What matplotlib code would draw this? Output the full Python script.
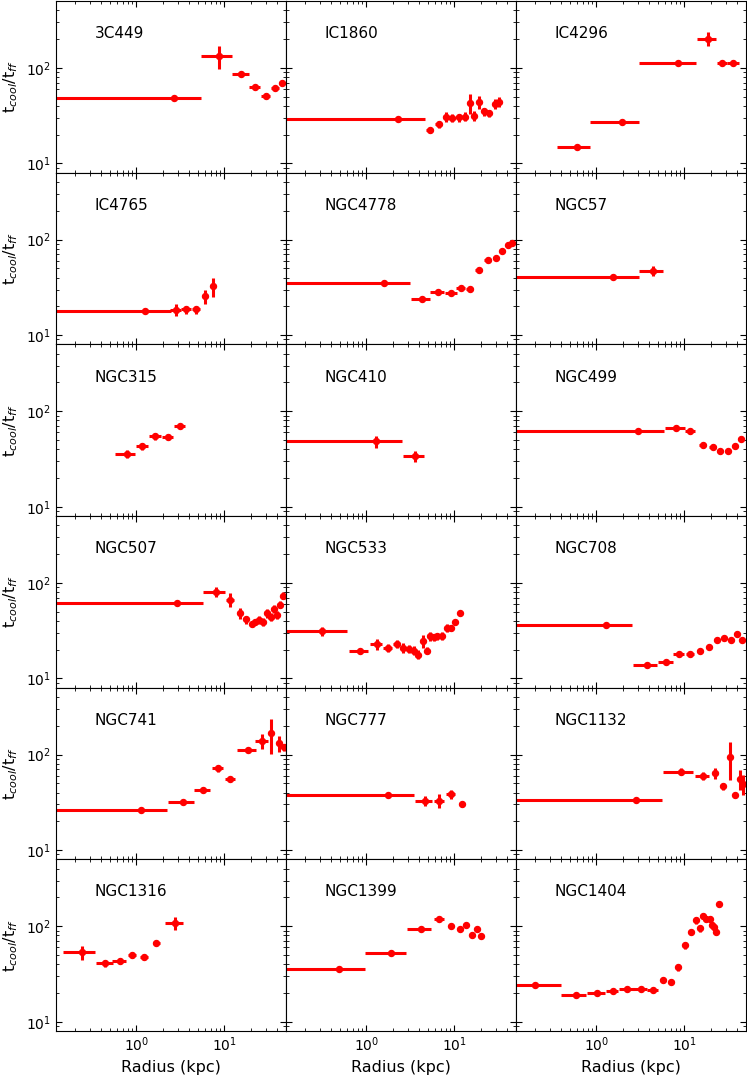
import matplotlib
matplotlib.use('Agg')
import matplotlib.pyplot as plt

# radius (kpc), half bin width, tcool/tff, error
r_3C449 = [2.7, 8.85, 15.75, 22.6, 29.6, 37.8, 45.8]
re_3C449 = [2.7, 3.45, 3.45, 3.2, 3.5, 4.0, 4.0]
t_3C449 = [48, 133, 86, 63, 51, 61, 69]
te_3C449 = [2, 36, 4, 3, 3, 3, 5]

r_IC1860 = [2.3, 5.3, 6.7, 8.1, 9.5, 11.3, 13.2, 15.0, 17.0, 19.2, 22.1, 25.1, 28.9, 32.6]
re_IC1860 = [2.3, 0.5, 0.6, 0.6, 0.7, 0.8, 0.9, 0.8, 0.9, 1.0, 1.2, 1.3, 1.5, 1.6]
t_IC1860 = [29.5, 22.5, 25.6, 30.8, 29.9, 30.3, 31.0, 42.8, 31.5, 44.4, 35.0, 33.4, 42.4, 44.1]
te_IC1860 = [0.8, 1.5, 2, 3.5, 3, 3, 3.5, 10, 4, 7, 3.5, 2.5, 5, 5]

r_IC4296 = [0.60, 1.94, 8.45, 18.5, 26.9, 36.3]
re_IC4296 = [0.24, 1.09, 5.35, 4.5, 3.5, 5.5]
t_IC4296 = [14.7, 27.3, 113.5, 202, 113.5, 113.5]
te_IC4296 = [0.6, 1, 3, 33, 5, 6]

r_IC4765 = [1.25, 2.84, 3.71, 4.79, 5.98, 7.45]
re_IC4765 = [1.22, 0.4, 0.45, 0.5, 0.45, 0.5]
t_IC4765 = [18.0, 18.4, 18.6, 18.6, 25.6, 32.3]
te_IC4765 = [0.5, 2.6, 1.8, 1.8, 4.4, 7.4]

r_NGC4778 = [1.6, 4.3, 6.5, 9.3, 12.0, 15.1, 19.1, 24.1, 29.7, 35.4, 41.6, 46.2]
re_NGC4778 = [1.58, 1.05, 1.2, 1.5, 1.4, 1.5, 1.8, 2.0, 2.3, 2.5, 2.7, 2.8]
t_NGC4778 = [35.3, 23.8, 28.2, 27.9, 30.8, 30.6, 47.8, 61.8, 63.8, 76.1, 87.1, 91.4]
te_NGC4778 = [0.8, 0.8, 1, 1, 1, 1, 1.5, 2, 2, 2.5, 3, 3]

r_NGC57 = [1.55, 4.45]
re_NGC57 = [1.52, 1.35]
t_NGC57 = [40.1, 47.4]
te_NGC57 = [1, 5.5]

r_NGC315 = [0.775, 1.16, 1.65, 2.28, 3.15]
re_NGC315 = [0.2, 0.18, 0.25, 0.33, 0.45]
t_NGC315 = [35.5, 42.8, 54.4, 54, 69.2]
te_NGC315 = [3.5, 3.5, 5, 3.5, 2.5]

r_NGC410 = [1.3, 3.6]
re_NGC410 = [1.27, 0.98]
t_NGC410 = [48.2, 34.1]
te_NGC410 = [6.5, 4.5]

r_NGC499 = [3.0, 8.1, 11.7, 16.2, 21.1, 25.7, 31.3, 37.7, 44.3]
re_NGC499 = [2.95, 2.05, 1.6, 1.6, 1.8, 2.0, 2.3, 2.6, 3.0]
t_NGC499 = [61.4, 67.5, 62.2, 43.8, 42.4, 38.2, 38.5, 43.1, 51]
te_NGC499 = [1.5, 4, 4, 2.5, 2, 2, 2, 2, 2]

r_NGC507 = [2.88, 8.0, 11.7, 15.1, 17.8, 20.5, 22.7, 24.9, 28.0, 31.0, 34.0, 37.4, 40.5, 43.5, 46.5]
re_NGC507 = [2.85, 2.25, 1.3, 0.9, 0.8, 0.7, 0.7, 0.7, 0.8, 0.8, 0.8, 0.8, 0.8, 0.8, 0.8]
t_NGC507 = [61.8, 80.5, 66.4, 48.2, 41.4, 37.3, 38.8, 40.7, 39.4, 48.2, 43.8, 53, 46.3, 59.3, 73.6]
te_NGC507 = [1.5, 9, 11, 6, 4, 3, 3, 4, 4, 5, 4, 5, 4, 5, 6]

r_NGC533 = [0.31, 0.84, 1.31, 1.75, 2.21, 2.63, 3.06, 3.51, 3.9, 4.38, 4.86, 5.33, 5.86, 6.42,
            7.21, 8.2, 9.1, 10.1, 11.8]
re_NGC533 = [0.30, 0.21, 0.2, 0.2, 0.2, 0.2, 0.2, 0.2, 0.2, 0.2, 0.2, 0.25, 0.25, 0.3, 0.35,
             0.4, 0.4, 0.5, 0.6]
t_NGC533 = [31.3, 19.4, 22.7, 20.9, 23, 20.9, 20.4, 19.6, 17.8, 24.6, 19.6, 27.9, 27, 27.5,
            27.9, 33.9, 33.6, 38.8, 48.2]
te_NGC533 = [3.5, 1, 3, 2, 2, 2.5, 2, 2, 2, 4, 1.5, 3, 2.5, 2.5, 2.5, 3, 2.5, 2.5, 2.5]

r_NGC708 = [1.3, 3.75, 6.25, 8.64, 11.7, 15.1, 19.0, 23.4, 28.6, 33.9, 39.5, 45.3]
re_NGC708 = [1.27, 1.15, 1.25, 1.2, 1.2, 1.2, 1.3, 1.4, 1.5, 1.7, 1.8, 2.0]
t_NGC708 = [36.6, 13.9, 14.9, 18.1, 18.1, 19.6, 21.1, 25.4, 26.2, 25.4, 29.1, 25.2]
te_NGC708 = [0.8, 0.6, 0.6, 0.8, 0.8, 0.8, 0.8, 1, 1, 1, 1.2, 1]

r_NGC741 = [1.12, 3.38, 5.7, 8.46, 11.8, 18.5, 27, 34.5, 42.5, 47.6]
re_NGC741 = [1.1, 1.1, 1.2, 1.2, 1.6, 4.4, 4.6, 1.5, 1.5, 1.5]
t_NGC741 = [26.2, 31.5, 42.1, 71.9, 54.8, 112.7, 140, 168, 131, 119]
te_NGC741 = [0.8, 1, 1.5, 6, 2.5, 4, 25, 67, 25, 10]

r_NGC777 = [1.77, 4.6, 6.72, 9.1, 12.2]
re_NGC777 = [1.74, 1.05, 0.9, 1.0, 0.9]
t_NGC777 = [37.6, 33.0, 32.8, 38.2, 30.0]
te_NGC777 = [0.8, 4, 5.5, 4, 2]

r_NGC1132 = [2.82, 9.2, 16.3, 22.3, 27.9, 33.1, 38.2, 42.8, 47]
re_NGC1132 = [2.75, 3.5, 3.1, 1.2, 1, 1, 1, 1, 1]
t_NGC1132 = [33.6, 66.4, 60.3, 63.8, 46.3, 93.6, 37.9, 55.7, 49.4]
te_NGC1132 = [0.8, 6, 6, 9, 4, 40, 2.5, 13, 12]

r_NGC1316 = [0.243, 0.445, 0.643, 0.90, 1.22, 1.69, 2.75]
re_NGC1316 = [0.096, 0.097, 0.11, 0.1, 0.12, 0.15, 0.65]
t_NGC1316 = [53.1, 41.0, 43.4, 50.1, 47.8, 66.4, 108]
te_NGC1316 = [8.5, 3.5, 3.5, 3.5, 2.5, 2.5, 17]

r_NGC1399 = [0.49, 1.91, 4.2, 6.81, 9.32, 11.6, 13.8, 16.1, 18.0, 20.2]
re_NGC1399 = [0.47, 0.94, 1.29, 0.95, 0.5, 0.5, 0.5, 0.5, 0.5, 0.5]
t_NGC1399 = [35.5, 52.6, 94.5, 118, 99.9, 93.6, 104, 81, 93.6, 79.8]
te_NGC1399 = [1, 1.5, 3, 5, 5, 5, 5, 5, 5, 4]

r_NGC1404 = [0.2, 0.58, 1.01, 1.53, 2.25, 3.19, 4.41, 5.69, 7.08, 8.53, 10.3, 12.1, 13.7, 15.3,
             16.6, 17.9, 19.5, 20.9, 21.8, 23.2, 24.8]
re_NGC1404 = [0.2, 0.18, 0.235, 0.25, 0.45, 0.6, 0.65, 0.3, 0.3, 0.3, 0.3, 0.3, 0.3, 0.3, 0.3,
              0.3, 0.3, 0.3, 0.3, 0.3, 0.3]
t_NGC1404 = [24.2, 19.0, 19.8, 20.9, 22.1, 21.9, 21.4, 27.1, 26.2, 37.3, 62.8, 85.9, 115, 94.6,
             129, 119, 120, 102, 97.6, 85.9, 169]
te_NGC1404 = [0.6, 0.6, 0.6, 0.7, 0.7, 0.7, 0.7, 1.5, 1.5, 3, 5, 6, 10, 7, 8, 8, 8, 7, 7, 6, 12]

panels = [
    ('3C449', r_3C449, re_3C449, t_3C449, te_3C449),
    ('IC1860', r_IC1860, re_IC1860, t_IC1860, te_IC1860),
    ('IC4296', r_IC4296, re_IC4296, t_IC4296, te_IC4296),
    ('IC4765', r_IC4765, re_IC4765, t_IC4765, te_IC4765),
    ('NGC4778', r_NGC4778, re_NGC4778, t_NGC4778, te_NGC4778),
    ('NGC57', r_NGC57, re_NGC57, t_NGC57, te_NGC57),
    ('NGC315', r_NGC315, re_NGC315, t_NGC315, te_NGC315),
    ('NGC410', r_NGC410, re_NGC410, t_NGC410, te_NGC410),
    ('NGC499', r_NGC499, re_NGC499, t_NGC499, te_NGC499),
    ('NGC507', r_NGC507, re_NGC507, t_NGC507, te_NGC507),
    ('NGC533', r_NGC533, re_NGC533, t_NGC533, te_NGC533),
    ('NGC708', r_NGC708, re_NGC708, t_NGC708, te_NGC708),
    ('NGC741', r_NGC741, re_NGC741, t_NGC741, te_NGC741),
    ('NGC777', r_NGC777, re_NGC777, t_NGC777, te_NGC777),
    ('NGC1132', r_NGC1132, re_NGC1132, t_NGC1132, te_NGC1132),
    ('NGC1316', r_NGC1316, re_NGC1316, t_NGC1316, te_NGC1316),
    ('NGC1399', r_NGC1399, re_NGC1399, t_NGC1399, te_NGC1399),
    ('NGC1404', r_NGC1404, re_NGC1404, t_NGC1404, te_NGC1404),
]

fig, axes = plt.subplots(6, 3, figsize=(7.47, 10.77), dpi=100, sharex=True, sharey=True)
fig.subplots_adjust(left=0.0743, right=0.998, top=0.999, bottom=0.0427, hspace=0, wspace=0)

for ax, (name, r, re, t, te) in zip(axes.flat, panels):
    ax.errorbar(r, t, xerr=re, yerr=te, fmt='o', color='red', ms=4.3,
                elinewidth=2.2, capsize=0)
    ax.text(0.17, 0.81, name, transform=ax.transAxes, fontsize=11, va='center')
    ax.set_xscale('log')
    ax.set_yscale('log')
    ax.tick_params(which='both', direction='in', top=True, right=True, labelsize=10)
    ax.tick_params(which='major', length=4)
    ax.tick_params(which='minor', length=2)

axes[0, 0].set_xlim(0.12, 50)
axes[0, 0].set_ylim(8, 500)

for ax in axes[:, 0]:
    ax.set_ylabel('t$_{cool}$/t$_{ff}$', fontsize=11.5)
for ax in axes[-1, :]:
    ax.set_xlabel('Radius (kpc)', fontsize=11.5)

plt.savefig('out.png')
